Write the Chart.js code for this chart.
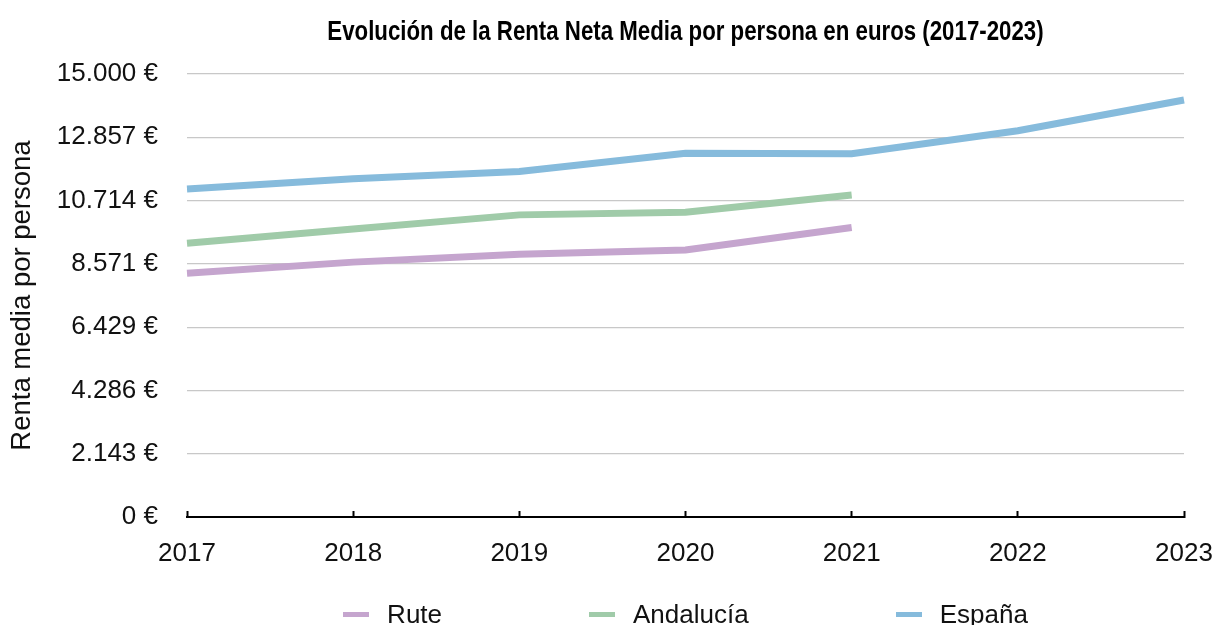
<!DOCTYPE html>
<html>
<head>
<meta charset="utf-8">
<script src="https://cdn.jsdelivr.net/npm/chart.js@4.4.1/dist/chart.umd.min.js"></script>
<style>
  html, body { margin: 0; padding: 0; background: #fff; }
  #wrap { position: relative; width: 1217px; height: 625px; overflow: hidden; }
  #title {
    position: absolute; top: 14px; height: 34px; text-align: center; white-space: nowrap;
    font: bold 28px "Liberation Sans", Arial, sans-serif; line-height: 34px; color: #000;
  }
  #title span { display: inline-block; transform: scaleX(0.795); transform-origin: 50% 50%; }
  #legend {
    position: absolute; top: 599px; height: 30px;
    display: flex; justify-content: center; gap: 147px;
    font: 26px "Liberation Sans", Arial, sans-serif; line-height: 30px; color: #111;
  }
  #legend .item { display: flex; align-items: center; gap: 18px; white-space: nowrap; }
  #legend .mark { width: 26px; height: 5px; }
</style>
</head>
<body>
<div id="wrap">
  <canvas id="myChart" width="1217" height="625"></canvas>
  <div id="title"></div>
  <div id="legend"></div>
</div>
<script>
const years = ['2017', '2018', '2019', '2020', '2021', '2022', '2023'];
const rute = [8250, 8630, 8900, 9040, 9800, null, null];
const andalucia = [9270, 9750, 10230, 10320, 10900, null, null];
const espana = [11110, 11450, 11700, 12320, 12300, 13080, 14120];

const seriesNames = ['Rute', 'Andalucía', 'España'];
const seriesColors = ['#c5a5ce', '#a0cba9', '#86bbdc'];

const tickValues = [0, 2142.86, 4285.71, 6428.57, 8571.43, 10714.29, 12857.14, 15000];
const tickLabels = ['0 €', '2.143 €', '4.286 €', '6.429 €', '8.571 €', '10.714 €', '12.857 €', '15.000 €'];

const chartTitle = 'Evolución de la Renta Neta Media por persona en euros (2017-2023)';
const yTitle = 'Renta media por persona';

Chart.defaults.font.family = '"Liberation Sans", Arial, sans-serif';
Chart.defaults.color = '#111';

function chart(){
    const ctx = document.getElementById('myChart');
    const values = [rute, andalucia, espana];
    const myChart = new Chart(ctx, {
      type: 'line',
      data: {
        labels: years,
        datasets: values.map((d, i) => ({
          label: seriesNames[i],
          data: d,
          borderColor: seriesColors[i],
          backgroundColor: seriesColors[i],
          borderWidth: 7,
          borderCapStyle: 'butt',
          pointRadius: 0,
          pointHoverRadius: 0,
          tension: 0,
          spanGaps: false
        }))
      },
      options: {
        responsive: false,
        animation: false,
        layout: { padding: { left: 0, right: 33, top: 74, bottom: 56 } },
        plugins: {
          legend: { display: false },
          tooltip: { enabled: false },
          title: { display: false }
        },
        scales: {
          x: {
            offset: false,
            grid: {
              display: true,
              drawOnChartArea: false,
              drawTicks: true,
              tickLength: -6,
              tickColor: '#000',
              tickWidth: 2
            },
            border: { display: true, color: '#000', width: 2 },
            ticks: { padding: 27, font: { size: 26 }, color: '#111', maxRotation: 0 },
            afterFit: function(s) {
                s.height = 52;
                s.paddingLeft = 0;
                s.paddingRight = 0;
            }
          },
          y: {
            min: 0,
            max: 15000,
            afterBuildTicks: function(s) {
              s.ticks = tickValues.map(v => ({ value: v }));
            },
            grid: { color: '#c8c8c8', lineWidth: 1.2, drawTicks: false },
            border: { display: false },
            ticks: {
              padding: 29,
              font: { size: 26 },
              color: '#111',
              callback: function(v, i) { return tickLabels[i]; }
            },
            title: {
              display: true,
              text: yTitle,
              font: { size: 27.5 },
              color: '#111',
              padding: { top: 6, bottom: 0 }
            },
            afterFit: function(s) {
                s.width = 187;
                s.paddingTop = 0;
                s.paddingBottom = 0;
            }
          }
        }
      }
    });

    const area = myChart.chartArea;

    // title centred on the chart area
    const t = document.getElementById('title');
    t.style.left = area.left + 'px';
    t.style.width = (area.right - area.left) + 'px';
    const ts = document.createElement('span');
    ts.textContent = chartTitle;
    t.appendChild(ts);

    // legend under the plot, centred on the chart area
    const box = document.getElementById('legend');
    box.style.left = area.left + 'px';
    box.style.width = (area.right - area.left) + 'px';
    seriesNames.forEach((name, i) => {
        const item = document.createElement('div');
        item.className = 'item';
        const mark = document.createElement('span');
        mark.className = 'mark';
        mark.style.background = seriesColors[i];
        const text = document.createElement('span');
        text.textContent = name;
        item.appendChild(mark);
        item.appendChild(text);
        box.appendChild(item);
    });
}

chart();
</script>
</body>
</html>
